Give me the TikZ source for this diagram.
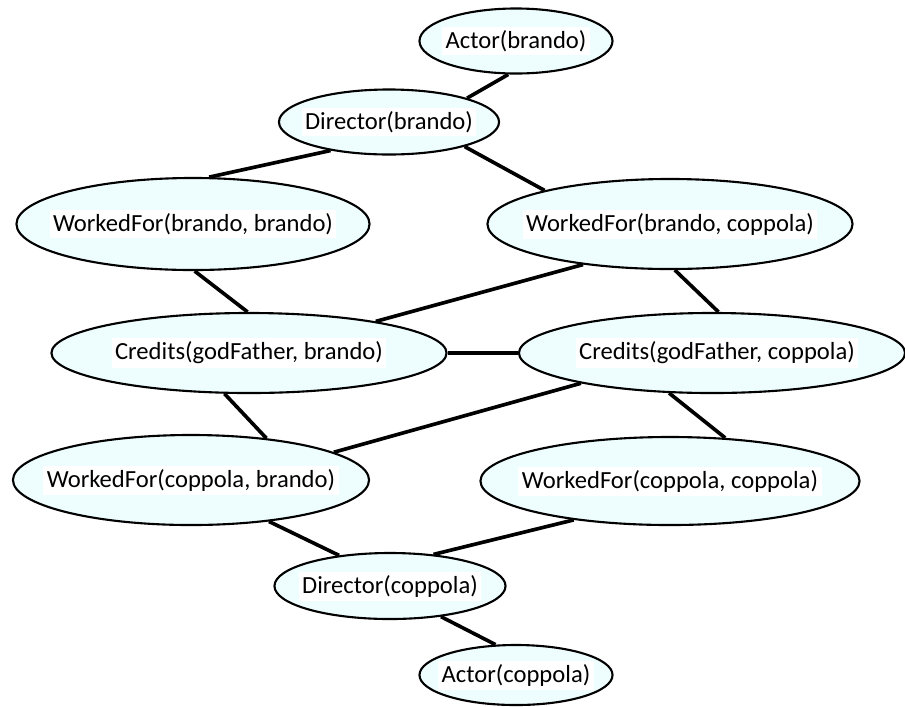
\documentclass[tikz,border=0pt]{standalone}
\usepackage{fontspec}
\setmainfont{Carlito}
\usetikzlibrary{shapes.geometric}

\definecolor{entfill}{RGB}{238,254,255}
\tikzset{
  ent/.style={ellipse, draw, line width=1.5pt, fill=entfill, inner sep=0pt},
  tag/.style={fill=white, inner sep=2.5pt, font=\fontsize{17.5pt}{20pt}\selectfont},
  link/.style={line width=2.6pt}
}

\begin{document}
\begin{tikzpicture}[x=0.025cm,y=-0.025cm]
\useasboundingbox (0,0) rectangle (905,706);
\node (actb) [ent, minimum width=4.825cm, minimum height=1.625cm, label={[tag]center:{Actor(brando)}}] at (516,41) {};
\node (dirb) [ent, minimum width=5.5cm, minimum height=1.625cm, label={[tag]center:{Director(brando)}}] at (389,122) {};
\node (wbb) [ent, minimum width=8.825cm, minimum height=2.3cm, label={[tag]center:{WorkedFor(brando, brando)}}] at (193,224) {};
\node (wbc) [ent, minimum width=9.125cm, minimum height=2.25cm, label={[tag]center:{WorkedFor(brando, coppola)}}] at (670,224) {};
\node (credb) [ent, minimum width=9.875cm, minimum height=2cm, label={[tag]center:{Credits(godFather, brando)}}] at (249,353) {};
\node (credc) [ent, minimum width=9.65cm, minimum height=2cm, label={[tag, xshift=0.125cm]center:{Credits(godFather, coppola)}}] at (712,353) {};
\node (wcb) [ent, minimum width=8.9cm, minimum height=2.25cm, label={[tag]center:{WorkedFor(coppola, brando)}}] at (191,480) {};
\node (wcc) [ent, minimum width=9.475cm, minimum height=2.2cm, label={[tag]center:{WorkedFor(coppola, coppola)}}] at (670,481) {};
\node (dirc) [ent, minimum width=5.775cm, minimum height=1.65cm, label={[tag]center:{Director(coppola)}}] at (390,586) {};
\node (actc) [ent, minimum width=4.825cm, minimum height=1.5cm, label={[tag]center:{Actor(coppola)}}] at (516,675) {};
% links
\draw [link] (actb.257) -- (dirb.17);
\draw [link] (dirb.206) -- (wbb.71);
\draw [link] (dirb.342) -- (wbc.165);
\draw [link] (wbb.272) -- (credb.92);
\draw [link] (wbc.205) -- (credb.14);
\draw [link] (wbc.276) -- (credc.81);
\draw [link] (credb.east) -- (credc.west);
\draw [link] (credb.239) -- (wcb.29);
\draw [link] (credc.193) -- (wcb.11);
\draw [link] (credc.223) -- (wcc.38);
\draw [link] (wcb.332) -- (dirc.149);
\draw [link] (wcc.202) -- (dirc.36);
\draw [link] (dirc.329) -- (actc.124);
\end{tikzpicture}
\end{document}
